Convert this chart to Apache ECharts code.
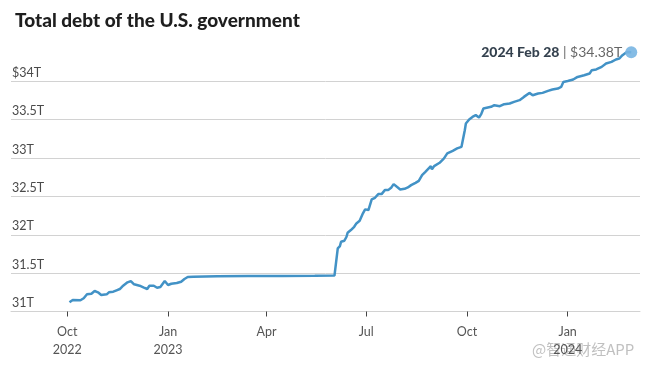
<!DOCTYPE html>
<html>
<head>
<meta charset="utf-8">
<script src="https://cdn.jsdelivr.net/npm/echarts@6/dist/echarts.min.js"></script>
<style>
html,body{margin:0;padding:0;background:#fff;}
#c{width:651px;height:371px;}
</style>
</head>
<body>
<div id="c"></div>
<script>
const titleText = 'Total debt of the U.S. government';
const watermarkText = '@智通财经APP';

const dates = [
  '2022-10-03','2022-10-06','2022-10-13','2022-10-16','2022-10-19','2022-10-23','2022-10-26','2022-10-29',
  '2022-11-01','2022-11-06','2022-11-08','2022-11-12','2022-11-15','2022-11-18','2022-11-21','2022-11-25','2022-11-28',
  '2022-12-01','2022-12-06','2022-12-10','2022-12-13','2022-12-15','2022-12-19','2022-12-22','2022-12-25','2022-12-29',
  '2023-01-01','2023-01-04','2023-01-09','2023-01-13','2023-01-16','2023-01-19','2023-01-24',
  '2023-02-15','2023-03-15','2023-04-15','2023-05-15','2023-06-02',
  '2023-06-05','2023-06-07','2023-06-08','2023-06-11','2023-06-13','2023-06-14','2023-06-17','2023-06-20','2023-06-22','2023-06-25','2023-06-28','2023-06-30',
  '2023-07-03','2023-07-06','2023-07-09','2023-07-12','2023-07-15','2023-07-18','2023-07-21','2023-07-24','2023-07-26','2023-07-29',
  '2023-08-01','2023-08-05','2023-08-08','2023-08-11','2023-08-15','2023-08-18','2023-08-21','2023-08-24','2023-08-29','2023-08-30',
  '2023-09-01','2023-09-06','2023-09-10','2023-09-13','2023-09-18','2023-09-22','2023-09-26','2023-09-29','2023-09-30',
  '2023-10-03','2023-10-06','2023-10-09','2023-10-12','2023-10-14','2023-10-16','2023-10-20','2023-10-23','2023-10-26','2023-10-31',
  '2023-11-04','2023-11-09','2023-11-13','2023-11-18','2023-11-22','2023-11-27','2023-11-30',
  '2023-12-05','2023-12-09','2023-12-14','2023-12-18','2023-12-23','2023-12-26','2023-12-28',
  '2024-01-01','2024-01-06','2024-01-10','2024-01-16','2024-01-21','2024-01-23','2024-01-27',
  '2024-02-01','2024-02-05','2024-02-10','2024-02-14','2024-02-17','2024-02-20','2024-02-24','2024-02-28'
];
const debt = [
  31.120,31.150,31.146,31.172,31.224,31.232,31.267,31.250,
  31.215,31.224,31.250,31.258,31.276,31.293,31.336,31.380,31.397,
  31.354,31.336,31.310,31.293,31.336,31.336,31.310,31.319,31.397,
  31.345,31.362,31.371,31.388,31.423,31.449,31.452,
  31.460,31.462,31.463,31.465,31.468,
  31.823,31.853,31.909,31.922,31.974,32.026,32.061,32.104,32.148,32.182,32.279,32.331,
  32.322,32.461,32.482,32.530,32.530,32.582,32.582,32.617,32.660,32.625,
  32.591,32.599,32.617,32.647,32.677,32.703,32.777,32.820,32.895,32.852,
  32.895,32.938,32.995,33.060,33.094,33.125,33.146,33.363,33.451,
  33.503,33.536,33.559,33.529,33.572,33.646,33.659,33.667,33.689,33.676,
  33.702,33.711,33.732,33.754,33.797,33.849,33.819,
  33.841,33.849,33.875,33.893,33.906,33.927,33.992,
  34.005,34.023,34.057,34.079,34.102,34.145,34.154,
  34.188,34.232,34.253,34.284,34.297,34.340,34.383,34.380
];

const xTickDates = ['2022-10-01','2023-01-01','2023-04-01','2023-07-01','2023-10-01','2024-01-01'];
const xTickLabels = ['Oct\n2022','Jan\n2023','Apr','Jul','Oct','Jan\n2024'];
const yTickValues = [31, 31.5, 32, 32.5, 33, 33.5, 34];
const yTickLabels = ['31T','31.5T','32T','32.5T','33T','33.5T','$34T'];
const monthNames = ['Jan','Feb','Mar','Apr','May','Jun','Jul','Aug','Sep','Oct','Nov','Dec'];

function parseUTC(s){ const p = s.split('-').map(Number); return Date.UTC(p[0], p[1]-1, p[2]); }
const DAY = 86400000;
const xTickValues = xTickDates.map(parseUTC);
const origin = parseUTC('2022-10-01');
const xMin = origin - 51.4 * DAY;
const xMax = origin + 523.0 * DAY;

const seriesData = dates.map((d, i) => [parseUTC(d), debt[i]]);
const lastIdx = dates.length - 1;
const lastParts = dates[lastIdx].split('-').map(Number);
const lastDateLabel = lastParts[0] + ' ' + monthNames[lastParts[1]-1] + ' ' + lastParts[2];
const lastValueLabel = '$' + debt[lastIdx].toFixed(2) + 'T';

const chart = echarts.init(document.getElementById('c'), null, {renderer: 'canvas'});
chart.setOption({
  animation: false,
  backgroundColor: '#ffffff',
  title: {
    text: titleText,
    left: 10, top: 6,
    textStyle: {fontFamily: 'Lato', fontWeight: 900, fontSize: 19, color: '#1e1e1e'}
  },
  graphic: [{
    type: 'text', left: 532, top: 342, silent: true,
    style: {text: watermarkText, fontFamily: 'Noto Sans CJK SC', fontSize: 15, fill: 'rgba(165,165,165,0.7)'}
  }],
  grid: {left: 11, right: 11, top: 81.3, height: 230.2, containLabel: false},
  xAxis: {
    type: 'value',
    min: xMin, max: xMax,
    axisLine: {show: true, lineStyle: {color: '#d2d2d2', width: 1}},
    axisTick: {show: true, customValues: xTickValues, length: 5, lineStyle: {color: '#444', width: 1}},
    axisLabel: {
      customValues: xTickValues,
      showMinLabel: true, showMaxLabel: true,
      margin: 11,
      fontFamily: 'Lato', fontSize: 12.5, color: '#555', lineHeight: 18,
      formatter: function (v) {
        let best = 0, bd = Infinity;
        xTickValues.forEach((t, i) => { const d = Math.abs(t - v); if (d < bd) { bd = d; best = i; } });
        return xTickLabels[best];
      }
    },
    splitLine: {show: false}
  },
  yAxis: {
    type: 'value',
    min: 31, max: 34, interval: 0.5,
    axisLine: {show: false},
    axisTick: {show: false},
    axisLabel: {
      inside: true, margin: 1,
      verticalAlign: 'bottom', padding: [0, 0, 2, 0],
      fontFamily: 'Lato', fontSize: 12.5, color: '#4a4a4a',
      formatter: function (v) {
        const i = yTickValues.findIndex(t => Math.abs(t - v) < 1e-6);
        return i >= 0 ? yTickLabels[i] : '';
      }
    },
    splitLine: {show: true, lineStyle: {color: '#d2d2d2', width: 1}}
  },
  series: [{
    type: 'line',
    data: seriesData,
    clip: false,
    showSymbol: false,
    symbol: 'none',
    lineStyle: {color: '#4292c6', width: 2.5},
    z: 3
  }, {
    type: 'scatter',
    data: [seriesData[lastIdx]],
    clip: false,
    symbolSize: 12,
    itemStyle: {color: '#78b5e2', opacity: 0.9},
    z: 4,
    label: {
      show: true, position: 'left', distance: 3,
      formatter: '{a|' + lastDateLabel + '}{b| | ' + lastValueLabel + '}',
      rich: {
        a: {fontFamily: 'Lato', fontWeight: 900, fontSize: 14, color: '#1d2b3a'},
        b: {fontFamily: 'Lato', fontSize: 14, color: '#555'}
      }
    }
  }]
});
</script>
</body>
</html>
